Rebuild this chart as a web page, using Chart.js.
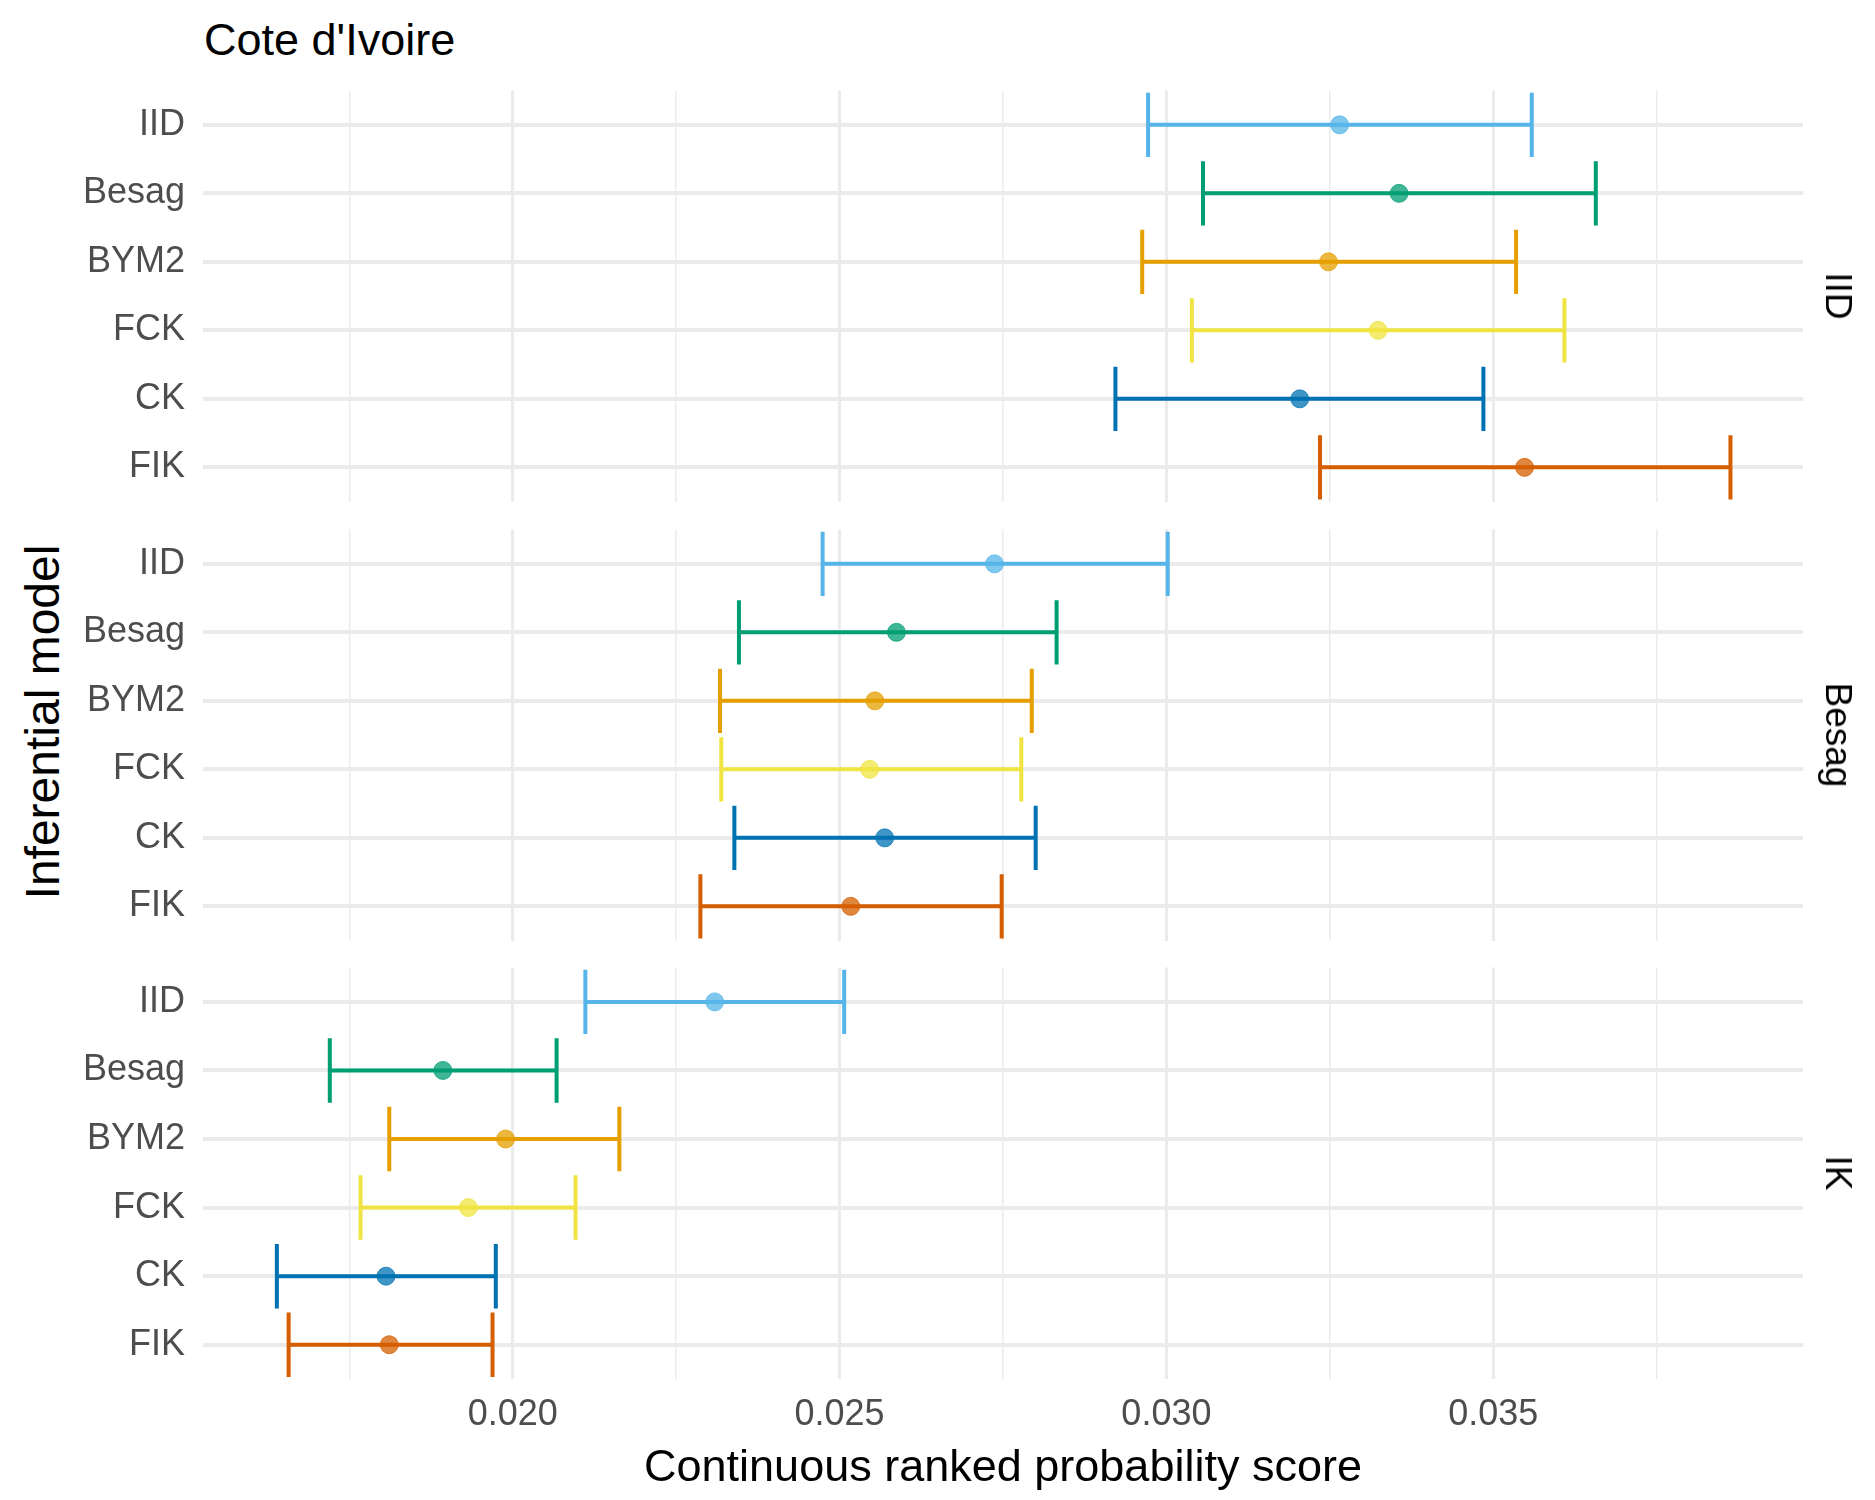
<!DOCTYPE html>
<html>
<head>
<meta charset="utf-8">
<script src="https://cdn.jsdelivr.net/npm/chart.js@4"></script>
<style>
  body { margin: 0; background: #fff; font-family: "Liberation Sans", Arial, sans-serif; }
  #wrap { position: relative; width: 1875px; height: 1500px; overflow: hidden; }
  .panel { position: absolute; left: 0; width: 1875px; }
  .txt { position: absolute; white-space: nowrap; color: #000; }
</style>
</head>
<body>
<div id="wrap">
  <div class="txt" style="left:204px;top:14px;font-size:45px;">Cote d'Ivoire</div>
  <div class="txt" style="left:42px;top:722px;font-size:48px;transform:translate(-50%,-50%) rotate(-90deg);">Inferential model</div>
  <div class="panel" id="p0"><canvas id="c0"></canvas></div>
  <div class="panel" id="p1"><canvas id="c1"></canvas></div>
  <div class="panel" id="p2"><canvas id="c2"></canvas></div>
  <div class="txt" style="left:1838px;top:296px;font-size:37px;transform:translate(-50%,-50%) rotate(90deg);">IID</div>
  <div class="txt" style="left:1838px;top:735px;font-size:37px;transform:translate(-50%,-50%) rotate(90deg);">Besag</div>
  <div class="txt" style="left:1838px;top:1173px;font-size:37px;transform:translate(-50%,-50%) rotate(90deg);">IK</div>
</div>
<script>
const models = ['IID', 'Besag', 'BYM2', 'FCK', 'CK', 'FIK'];
const colors = ['#56B4E9', '#009E73', '#E69F00', '#F0E442', '#0072B2', '#D55E00'];
const panels = ['IID', 'Besag', 'IK'];

// per panel, in the order of models
const lower = [
  [0.02972, 0.03056, 0.02963, 0.03039, 0.02922, 0.03235],
  [0.02474, 0.02346, 0.02317, 0.02319, 0.02339, 0.02287],
  [0.02111, 0.01720, 0.01811, 0.01767, 0.01639, 0.01657]
];
const mean = [
  [0.03265, 0.03356, 0.03248, 0.03324, 0.03204, 0.03548],
  [0.02737, 0.02587, 0.02554, 0.02546, 0.02569, 0.02517],
  [0.02309, 0.01893, 0.01989, 0.01932, 0.01806, 0.01811]
];
const upper = [
  [0.03559, 0.03657, 0.03535, 0.03609, 0.03485, 0.03863],
  [0.03002, 0.02832, 0.02794, 0.02778, 0.02800, 0.02748],
  [0.02507, 0.02067, 0.02163, 0.02096, 0.01974, 0.01969]
];
const xTicks = [0.020, 0.025, 0.030, 0.035];
const xMin = 0.01526, xMax = 0.03974;

// wanted plot areas on the page
const areaLeft = 203, areaRight = 1803;
const areaTop = [91, 530, 968];
const areaH = 411;

const errorBars = {
  id: 'errorBars',
  beforeDatasetsDraw(chart) {
    const p = chart.options.plugins.errorBars.panel;
    const x = chart.scales.x, y = chart.scales.y;
    const ctx = chart.ctx;
    const band = y.getPixelForValue(1) - y.getPixelForValue(0);
    const cap = band * 0.47;
    ctx.save();
    ctx.lineWidth = 4;
    models.forEach((m, i) => {
      const yy = y.getPixelForValue(i);
      const x0 = x.getPixelForValue(lower[p][i]);
      const x1 = x.getPixelForValue(upper[p][i]);
      ctx.strokeStyle = colors[i];
      ctx.beginPath();
      ctx.moveTo(x0, yy); ctx.lineTo(x1, yy);
      ctx.moveTo(x0, yy - cap); ctx.lineTo(x0, yy + cap);
      ctx.moveTo(x1, yy - cap); ctx.lineTo(x1, yy + cap);
      ctx.stroke();
    });
    ctx.restore();
  }
};

function makeChart(p) {
  const bottom = p === 2;
  const box = document.getElementById('p' + p);
  box.style.top = areaTop[p] + 'px';
  box.style.height = (bottom ? 1500 - areaTop[p] : areaH) + 'px';
  const chart = new Chart(document.getElementById('c' + p), {
    type: 'scatter',
    data: {
      datasets: [{
        data: models.map((m, i) => ({ x: mean[p][i], y: m })),
        backgroundColor: colors.map(c => c + 'C0'),
        borderColor: colors.map(c => c + 'C0'),
        pointRadius: 9,
        pointHoverRadius: 9
      }]
    },
    options: {
      responsive: true,
      maintainAspectRatio: false,
      animation: false,
      layout: { padding: { left: 0, right: 72, top: 0, bottom: 0 } },
      plugins: {
        legend: { display: false },
        tooltip: { enabled: false },
        errorBars: { panel: p }
      },
      scales: {
        x: {
          type: 'linear',
          min: xMin,
          max: xMax,
          afterBuildTicks: axis => {
            const t = [];
            for (let v = 0.0175; v < xMax; v += 0.0025) t.push({ value: +v.toFixed(4) });
            axis.ticks = t;
          },
          border: { display: false },
          grid: {
            color: '#ebebeb',
            lineWidth: c => xTicks.some(v => Math.abs(v - c.tick.value) < 1e-6) ? 3 : 1.5,
            drawTicks: false
          },
          ticks: {
            display: bottom,
            padding: 14,
            color: '#4d4d4d',
            font: { size: 36, family: 'Liberation Sans' },
            callback: v => xTicks.some(t => Math.abs(t - v) < 1e-6) ? v.toFixed(3) : ''
          },
          title: {
            display: bottom,
            text: 'Continuous ranked probability score',
            color: '#000',
            font: { size: 45, family: 'Liberation Sans' },
            padding: { top: 2 }
          },
          afterFit: axis => { axis.height = bottom ? 121 : 0; }
        },
        y: {
          type: 'category',
          labels: models,
          offset: true,
          border: { display: false },
          grid: { color: '#ebebeb', lineWidth: 4, offset: false, drawTicks: false },
          ticks: {
            padding: 18,
            color: '#4d4d4d',
            font: { size: 36, family: 'Liberation Sans' }
          },
          afterFit: axis => { axis.width = areaLeft; }
        }
      }
    },
    plugins: [errorBars]
  });

  // correct the box so the plot area lands where the reference has it
  for (let k = 0; k < 2; k++) {
    const a = chart.chartArea;
    const h = box.clientHeight;
    const top = parseFloat(box.style.top) - (a.top - 0) + (areaTop[p] - (parseFloat(box.style.top) + a.top)) + a.top;
    const newTop = areaTop[p] - a.top;
    const extraBottom = bottom ? 0 : (h - a.bottom);
    const plotH = a.bottom - a.top;
    const newH = h + (areaH - plotH);
    box.style.top = newTop + 'px';
    box.style.height = newH + 'px';
    chart.options.layout.padding.right += (a.right - areaRight);
    chart.resize();
  }
}
panels.forEach((name, p) => makeChart(p));
</script>
</body>
</html>
